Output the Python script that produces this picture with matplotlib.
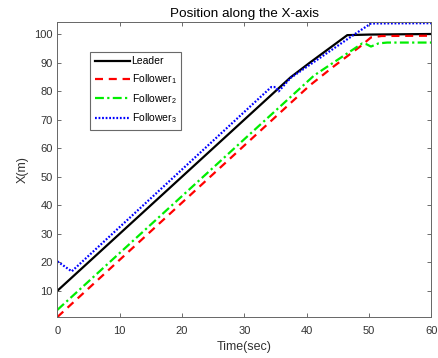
import matplotlib
matplotlib.use('Agg')
import matplotlib.pyplot as plt

plt.rcParams['font.family'] = ['Liberation Sans', 'DejaVu Sans']
plt.rcParams['mathtext.fontset'] = 'custom'
plt.rcParams['mathtext.rm'] = 'Liberation Sans'
plt.rcParams['mathtext.it'] = 'Liberation Sans'

# positions (time in s, position in m)
t_leader = [0, 37.4, 40.4, 46.5, 50, 60]
x_leader = [10, 84.8, 89.8, 99.6, 99.8, 100]

t_f1 = [0, 40.5, 44.3, 48.5, 50.3, 52, 60]
x_f1 = [0.8, 82, 88.6, 95.5, 98.8, 99.3, 99.4]

t_f2 = [0, 41.2, 48.9, 49.6, 50.3, 51.5, 52.9, 60]
x_f2 = [3.3, 85.5, 96.7, 96.4, 95.6, 96.7, 97.0, 97.0]

t_f3 = [0, 2.3, 34.3, 35.0, 35.5, 37.4, 47.6, 50.3, 60]
x_f3 = [20.3, 16.8, 81.4, 81.4, 79.9, 84.6, 99.8, 103.7, 103.8]

labels = ['Leader', r'Follower$_1$', r'Follower$_2$', r'Follower$_3$']
xticks = [0, 10, 20, 30, 40, 50, 60]
yticks = [10, 20, 30, 40, 50, 60, 70, 80, 90, 100]

fig = plt.figure(figsize=(4.38, 3.58), dpi=100)
ax = fig.add_axes([0.131, 0.1137, 0.854, 0.824])

ax.plot(t_leader, x_leader, color='black', lw=1.6, ls='-', label=labels[0])
ax.plot(t_f1, x_f1, color='red', lw=1.6, ls=(0, (3.6, 2.6)), label=labels[1])
ax.plot(t_f2, x_f2, color='#00ee00', lw=1.6, ls=(0, (4, 1.5, 1, 1.5)), label=labels[2])
ax.plot(t_f3, x_f3, color='blue', lw=1.6, ls=(0, (0.8, 0.8)), label=labels[3])

ax.set_xlim(0, 60)
ax.set_ylim(0.7, 104.1)
ax.set_xticks(xticks)
ax.set_yticks(yticks)
ax.tick_params(direction='in', top=True, right=True, length=3, width=0.6,
               labelsize=8, colors='#555555', labelcolor='#333333')
ax.tick_params(axis='x', pad=6)
for sp in ax.spines.values():
    sp.set_color('#666666')
    sp.set_linewidth(0.7)

ax.set_title('Position along the X-axis', fontsize=9.7, pad=4)
ax.set_xlabel('Time(sec)', fontsize=9, labelpad=4, color='#333333')
ax.set_ylabel('X(m)', fontsize=9, labelpad=4, color='#333333')

leg = ax.legend(loc='upper left', bbox_to_anchor=(0.087, 0.9), fontsize=7.5,
                frameon=True, fancybox=False, handlelength=3.4, handletextpad=0.15,
                borderpad=0.45, labelspacing=0.55, borderaxespad=0)
leg.get_frame().set_edgecolor('#444444')
leg.get_frame().set_linewidth(0.8)

fig.savefig('out.png', dpi=100)
